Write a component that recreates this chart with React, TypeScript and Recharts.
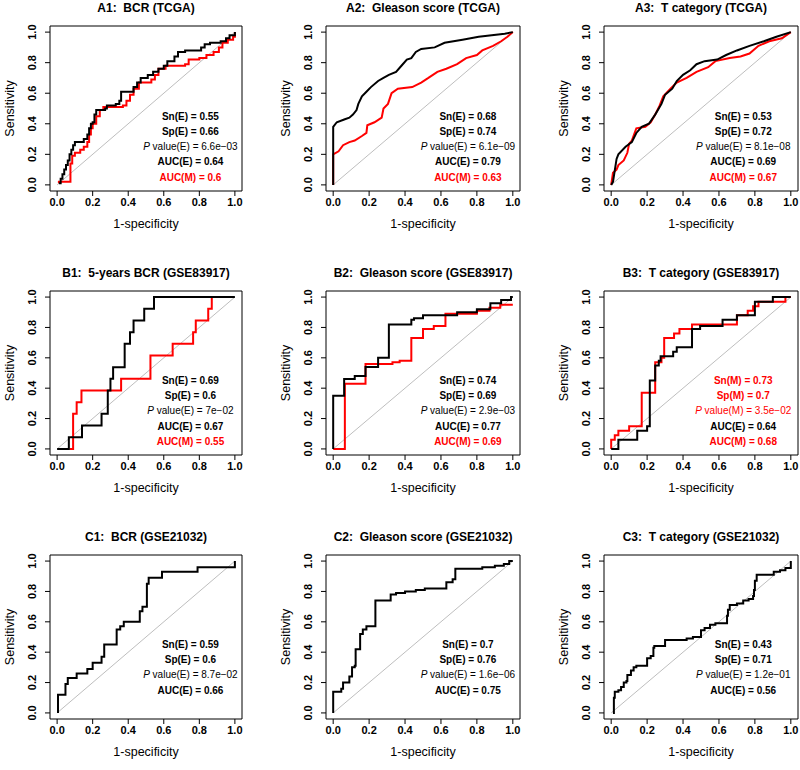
import React from "react";
import { LineChart, Line, XAxis, YAxis, ReferenceArea, ReferenceLine, ReferenceDot, Label } from "recharts";

type Pt = [number, number];

// ---------- data (x = 1-specificity, y = sensitivity) ----------
const a1Black: Pt[] = [[0.01,0.01],[0.02,0.04],[0.03,0.07],[0.04,0.1],[0.05,0.13],[0.06,0.16],[0.07,0.2],[0.08,0.23],[0.09,0.26],[0.1,0.28],[0.15,0.3],[0.17,0.33],[0.18,0.37],[0.19,0.4],[0.2,0.41],[0.21,0.46],[0.22,0.49],[0.27,0.5],[0.28,0.52],[0.33,0.53],[0.35,0.55],[0.36,0.61],[0.43,0.64],[0.45,0.67],[0.47,0.7],[0.51,0.72],[0.54,0.74],[0.57,0.76],[0.6,0.78],[0.62,0.81],[0.66,0.84],[0.68,0.87],[0.72,0.88],[0.81,0.9],[0.83,0.92],[0.86,0.93],[0.92,0.94],[0.95,0.96],[0.97,0.98],[1,1]];
const a1Red: Pt[] = [[0.01,0.01],[0.01,0.02],[0.075,0.14],[0.085,0.19],[0.1,0.21],[0.13,0.23],[0.15,0.25],[0.17,0.28],[0.18,0.33],[0.19,0.37],[0.2,0.4],[0.22,0.45],[0.24,0.49],[0.26,0.51],[0.37,0.52],[0.39,0.55],[0.41,0.59],[0.43,0.63],[0.46,0.67],[0.53,0.69],[0.55,0.72],[0.57,0.76],[0.61,0.78],[0.72,0.79],[0.74,0.82],[0.8,0.83],[0.84,0.85],[0.88,0.87],[0.91,0.9],[0.93,0.93],[0.96,0.95],[0.99,0.97],[1,1]];
const a2Black: Pt[] = [[0,0],[0,0.38],[0.02,0.41],[0.065,0.43],[0.09,0.44],[0.11,0.46],[0.13,0.49],[0.14,0.53],[0.16,0.58],[0.185,0.61],[0.21,0.64],[0.25,0.68],[0.28,0.7],[0.31,0.72],[0.35,0.74],[0.38,0.78],[0.41,0.82],[0.435,0.83],[0.46,0.87],[0.49,0.89],[0.565,0.9],[0.62,0.93],[0.72,0.95],[0.81,0.97],[0.955,0.99],[1,1]];
const a2Red: Pt[] = [[0,0],[0,0.2],[0.03,0.22],[0.055,0.26],[0.09,0.28],[0.12,0.29],[0.16,0.32],[0.185,0.34],[0.19,0.39],[0.23,0.41],[0.27,0.44],[0.28,0.5],[0.305,0.53],[0.325,0.6],[0.36,0.63],[0.44,0.64],[0.49,0.67],[0.53,0.7],[0.58,0.74],[0.63,0.76],[0.69,0.79],[0.74,0.83],[0.8,0.85],[0.83,0.88],[0.89,0.91],[0.935,0.94],[0.97,0.97],[1,1]];
const a3Black: Pt[] = [[0,0],[0.01,0.02],[0.03,0.17],[0.04,0.2],[0.08,0.25],[0.115,0.28],[0.14,0.34],[0.17,0.38],[0.21,0.4],[0.245,0.46],[0.28,0.53],[0.3,0.59],[0.34,0.63],[0.365,0.68],[0.4,0.72],[0.44,0.75],[0.475,0.79],[0.52,0.81],[0.59,0.82],[0.64,0.85],[0.7,0.88],[0.77,0.91],[0.85,0.94],[0.92,0.97],[1,1]];
const a3Red: Pt[] = [[0,0],[0.01,0.08],[0.03,0.1],[0.04,0.13],[0.07,0.16],[0.09,0.21],[0.1,0.27],[0.115,0.29],[0.14,0.37],[0.19,0.38],[0.22,0.41],[0.245,0.46],[0.27,0.52],[0.29,0.58],[0.33,0.63],[0.365,0.67],[0.42,0.7],[0.475,0.74],[0.54,0.77],[0.58,0.81],[0.66,0.83],[0.72,0.84],[0.77,0.86],[0.82,0.91],[0.88,0.94],[0.95,0.96],[1,1]];
const b1Black: Pt[] = [[0,0],[0.066,0.077],[0.14,0.154],[0.25,0.231],[0.285,0.385],[0.3,0.462],[0.315,0.538],[0.38,0.692],[0.41,0.769],[0.43,0.846],[0.49,0.923],[0.545,1],[1,1]];
const b1Red: Pt[] = [[0.07,0],[0.09,0.231],[0.11,0.308],[0.137,0.385],[0.36,0.462],[0.525,0.615],[0.65,0.692],[0.765,0.769],[0.78,0.846],[0.85,0.923],[0.87,1],[0.87,1]];
const b2Black: Pt[] = [[0,0],[0,0.35],[0.061,0.46],[0.12,0.48],[0.18,0.54],[0.25,0.6],[0.31,0.82],[0.435,0.85],[0.45,0.86],[0.5,0.88],[0.69,0.9],[0.8,0.92],[0.875,0.96],[0.935,0.98],[0.99,1],[1,1]];
const b2Red: Pt[] = [[0,0],[0.065,0.43],[0.18,0.56],[0.33,0.57],[0.37,0.58],[0.435,0.73],[0.5,0.79],[0.56,0.81],[0.625,0.89],[0.8,0.91],[0.87,0.93],[0.93,0.95],[1,0.95]];
const b3Black: Pt[] = [[0,0],[0.04,0.06],[0.145,0.12],[0.2,0.15],[0.215,0.45],[0.245,0.55],[0.265,0.58],[0.275,0.61],[0.345,0.64],[0.365,0.67],[0.45,0.79],[0.495,0.81],[0.62,0.85],[0.7,0.88],[0.8,0.97],[0.9,1],[1,1]];
const b3Red: Pt[] = [[0,0],[0,0.06],[0.02,0.09],[0.04,0.12],[0.1,0.15],[0.17,0.37],[0.245,0.57],[0.28,0.6],[0.295,0.73],[0.35,0.76],[0.38,0.79],[0.45,0.82],[0.7,0.88],[0.76,0.91],[0.79,0.94],[0.82,0.97],[0.97,1],[1,1]];
const c1Black: Pt[] = [[0.005,0],[0.005,0.12],[0.047,0.19],[0.06,0.23],[0.11,0.26],[0.17,0.29],[0.2,0.33],[0.25,0.37],[0.265,0.45],[0.335,0.55],[0.355,0.57],[0.375,0.6],[0.465,0.67],[0.48,0.7],[0.505,0.85],[0.515,0.89],[0.59,0.93],[0.79,0.96],[1,1]];
const c2Black: Pt[] = [[0,0],[0,0.14],[0.045,0.16],[0.055,0.2],[0.09,0.24],[0.105,0.3],[0.12,0.31],[0.125,0.42],[0.15,0.52],[0.165,0.55],[0.185,0.57],[0.235,0.74],[0.32,0.78],[0.35,0.79],[0.4,0.8],[0.46,0.81],[0.51,0.82],[0.63,0.86],[0.665,0.88],[0.68,0.95],[0.83,0.96],[0.9,0.97],[0.95,0.98],[0.98,1],[1,1]];
const c3Black: Pt[] = [[0.01,0],[0.015,0.1],[0.02,0.14],[0.04,0.15],[0.055,0.17],[0.07,0.2],[0.085,0.21],[0.09,0.25],[0.11,0.28],[0.125,0.3],[0.14,0.31],[0.2,0.36],[0.22,0.375],[0.235,0.43],[0.24,0.44],[0.3,0.48],[0.42,0.49],[0.455,0.5],[0.5,0.545],[0.52,0.56],[0.55,0.58],[0.58,0.59],[0.645,0.64],[0.65,0.68],[0.66,0.71],[0.7,0.72],[0.735,0.74],[0.765,0.75],[0.79,0.77],[0.795,0.81],[0.8,0.87],[0.81,0.91],[0.905,0.93],[0.94,0.94],[0.97,0.955],[1,0.96],[1,1]];

const titles = [
  "A1:  BCR (TCGA)", "A2:  Gleason score (TCGA)", "A3:  T category (TCGA)",
  "B1:  5-years BCR (GSE83917)", "B2:  Gleason score (GSE83917)", "B3:  T category (GSE83917)",
  "C1:  BCR (GSE21032)", "C2:  Gleason score (GSE21032)", "C3:  T category (GSE21032)",
];

const a1Stats = ["Sn(E) = 0.55", "Sp(E) = 0.66", "P value(E) = 6.6e\u221203", "AUC(E) = 0.64", "AUC(M) = 0.6"];
const a2Stats = ["Sn(E) = 0.68", "Sp(E) = 0.74", "P value(E) = 6.1e\u221209", "AUC(E) = 0.79", "AUC(M) = 0.63"];
const a3Stats = ["Sn(E) = 0.53", "Sp(E) = 0.72", "P value(E) = 8.1e\u221208", "AUC(E) = 0.69", "AUC(M) = 0.67"];
const b1Stats = ["Sn(E) = 0.69", "Sp(E) = 0.6", "P value(E) = 7e\u221202", "AUC(E) = 0.67", "AUC(M) = 0.55"];
const b2Stats = ["Sn(E) = 0.74", "Sp(E) = 0.69", "P value(E) = 2.9e\u221203", "AUC(E) = 0.77", "AUC(M) = 0.69"];
const b3Stats = ["Sn(M) = 0.73", "Sp(M) = 0.7", "P value(M) = 3.5e\u221202", "AUC(E) = 0.64", "AUC(M) = 0.68"];
const c1Stats = ["Sn(E) = 0.59", "Sp(E) = 0.6", "P value(E) = 8.7e\u221202", "AUC(E) = 0.66"];
const c2Stats = ["Sn(E) = 0.7", "Sp(E) = 0.76", "P value(E) = 1.6e\u221206", "AUC(E) = 0.75"];
const c3Stats = ["Sn(E) = 0.43", "Sp(E) = 0.71", "P value(E) = 1.2e\u221201", "AUC(E) = 0.56"];

const blackCurves: Pt[][] = [a1Black, a2Black, a3Black, b1Black, b2Black, b3Black, c1Black, c2Black, c3Black];
const redCurves: (Pt[] | null)[] = [a1Red, a2Red, a3Red, b1Red, b2Red, b3Red, null, null, null];
const statLists = [a1Stats, a2Stats, a3Stats, b1Stats, b2Stats, b3Stats, c1Stats, c2Stats, c3Stats];
const curveTypes = ["stepAfter", "linear", "linear", "stepAfter", "stepAfter", "stepAfter", "stepAfter", "stepAfter", "stepAfter"];

const ticks = [0, 0.2, 0.4, 0.6, 0.8, 1];
const diagonal = [{ x: 0, y: 0 }, { x: 1, y: 1 }];

// ---------- layout / style ----------
const FONT = '"Liberation Sans", Arial, Helvetica, sans-serif';
const RED = "#FF0000";
const DOMAIN: [number, number] = [-0.04, 1.04];
const colLeft = [50, 326, 604];
const colWidth = [192, 194, 194];
const rowTop = [26, 291, 555];
const rowHeight = [165, 164, 164];
const statX = [0.75, 0.75, 0.735];
const ML = 50, MT = 26, MR = 2, XH = 45;

const toObjs = (pts: Pt[]) => pts.map(([x, y]) => ({ x, y }));

function XTick(props: any) {
  const { x, y, payload } = props;
  return (
    <text x={x} y={y} dy="0.71em" textAnchor="middle" fontFamily={FONT} fontSize={11} fontWeight="bold" fill="#000">
      {Number(payload.value).toFixed(1)}
    </text>
  );
}

function YTick(props: any) {
  const { x, y, payload } = props;
  const cx = x - 11;
  return (
    <text x={cx} y={y} dy="0.36em" textAnchor="middle" transform={`rotate(-90, ${cx}, ${y})`} fontFamily={FONT} fontSize={11} fontWeight="bold" fill="#000">
      {Number(payload.value).toFixed(1)}
    </text>
  );
}

const renderXLabel = (props: any) => {
  const vb = props.viewBox || {};
  return (
    <text x={vb.x + vb.width / 2} y={vb.y + 33} dy="0.35em" textAnchor="middle" fontFamily={FONT} fontSize={12.5} fill="#000">
      1-specificity
    </text>
  );
};

const renderYLabel = (props: any) => {
  const vb = props.viewBox || {};
  const cx = vb.x + vb.width - 40;
  const cy = vb.y + vb.height / 2;
  return (
    <text x={cx} y={cy} dy="0.35em" textAnchor="middle" transform={`rotate(-90, ${cx}, ${cy})`} fontFamily={FONT} fontSize={12.5} fill="#000">
      Sensitivity
    </text>
  );
};

function statShape(s: string) {
  return (p: any) => {
    const color = s.includes("(M)") ? RED : "#000";
    if (s.startsWith("P ")) {
      return (
        <text x={p.cx} y={p.cy} dy="0.35em" textAnchor="middle" fontFamily={FONT} fontSize={10} fill={color}>
          <tspan fontStyle="italic">P</tspan>
          <tspan>{s.slice(1)}</tspan>
        </text>
      );
    }
    return (
      <text x={p.cx} y={p.cy} dy="0.35em" textAnchor="middle" fontFamily={FONT} fontSize={10} fontWeight="bold" fill={color}>
        {s}
      </text>
    );
  };
}

function Panel({ idx }: { idx: number }) {
  const r = Math.floor(idx / 3);
  const c = idx % 3;
  const bw = colWidth[c];
  const bh = rowHeight[r];
  const w = ML + bw + MR;
  const h = MT + bh + XH;
  const black = blackCurves[idx];
  const red = redCurves[idx];
  const type = curveTypes[idx] as any;
  return (
    <div style={{ position: "absolute", left: colLeft[c] - ML, top: rowTop[r] - MT, width: w, height: h }}>
      <div
        style={{
          position: "absolute", left: ML, top: MT - 18 - 8, width: bw, height: 16, lineHeight: "16px",
          textAlign: "center", fontFamily: FONT, fontSize: 12, fontWeight: "bold", whiteSpace: "pre", color: "#000",
        }}
      >
        {titles[idx]}
      </div>
      <LineChart width={w} height={h} margin={{ top: MT, right: MR, bottom: 0, left: 0 }}>
        <XAxis
          type="number" dataKey="x" domain={DOMAIN} ticks={ticks} allowDataOverflow interval={0}
          axisLine={false} tickLine={{ stroke: "#000" }} tickSize={5} tickMargin={2} tick={<XTick />} height={XH}
        >
          <Label content={renderXLabel} />
        </XAxis>
        <YAxis
          type="number" domain={DOMAIN} ticks={ticks} allowDataOverflow interval={0}
          axisLine={false} tickLine={{ stroke: "#000" }} tickSize={5} tickMargin={2} tick={<YTick />} width={ML}
        >
          <Label content={renderYLabel} />
        </YAxis>
        <ReferenceLine segment={diagonal} stroke="#BEBEBE" strokeWidth={1} />
        {red && (
          <Line data={toObjs(red)} dataKey="y" type={type} stroke={RED} strokeWidth={2} dot={false} activeDot={false} isAnimationActive={false} />
        )}
        <Line data={toObjs(black)} dataKey="y" type={type} stroke="#000" strokeWidth={2} dot={false} activeDot={false} isAnimationActive={false} />
        <ReferenceArea x1={DOMAIN[0]} x2={DOMAIN[1]} y1={DOMAIN[0]} y2={DOMAIN[1]} fill="none" fillOpacity={0} stroke="#000" strokeWidth={1} />
        {statLists[idx].map((s, i) => (
          <ReferenceDot key={i} x={statX[c]} y={0.45 - 0.1 * i} r={0} shape={statShape(s)} />
        ))}
      </LineChart>
    </div>
  );
}

export default function App() {
  return (
    <div style={{ position: "absolute", left: 0, top: 0, width: 800, height: 770, background: "#fff", overflow: "hidden" }}>
      {titles.map((_, i) => (
        <Panel key={i} idx={i} />
      ))}
    </div>
  );
}
